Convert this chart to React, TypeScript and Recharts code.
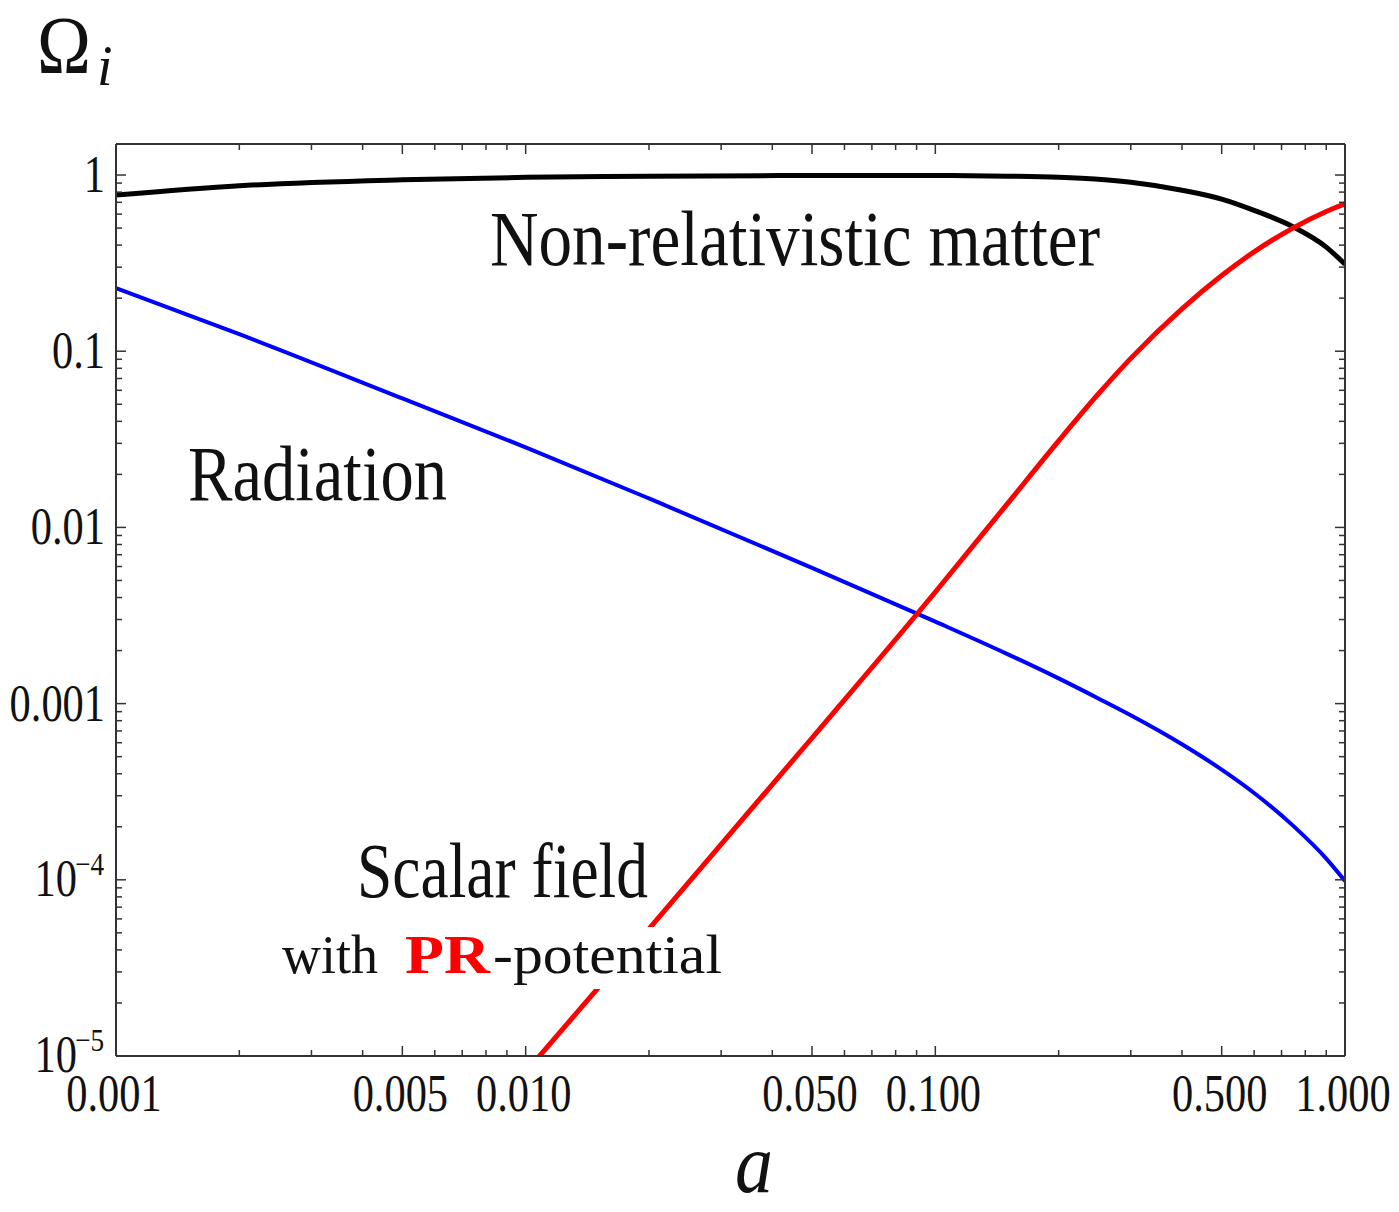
import React from 'react'
import { LineChart, Line, XAxis, YAxis } from 'recharts'

// scale factor a for matter and radiation curves
const aGrid = [0.001, 0.002, 0.005, 0.01, 0.02, 0.05, 0.1, 0.15, 0.2, 0.25, 0.3, 0.4, 0.5, 0.6, 0.75, 0.9, 1]
const matter = [0.77, 0.87, 0.94, 0.97, 0.984, 0.993, 0.993, 0.985, 0.97, 0.945, 0.91, 0.82, 0.73, 0.63, 0.506, 0.39, 0.312]
const radiation = [0.228, 0.125, 0.054, 0.0285, 0.0146, 0.0059, 0.00292, 0.00191, 0.00139, 0.00107, 0.000859, 0.000588, 0.000422, 0.000311, 0.000201, 0.000132, 0.0000985]

// scalar field only enters the frame around a = 0.011
const aField = [0.01, 0.02, 0.05, 0.1, 0.15, 0.2, 0.25, 0.3, 0.4, 0.5, 0.6, 0.75, 0.9, 1]
const scalarField = [8.1e-6, 5.27e-5, 6.38e-4, 0.0043, 0.01364, 0.031, 0.0572, 0.0911, 0.174, 0.2688, 0.3665, 0.503, 0.621, 0.686]

const xMajor = [0.001, 0.005, 0.01, 0.05, 0.1, 0.5, 1]
const xMinor = [0.002, 0.003, 0.004, 0.006, 0.007, 0.008, 0.009, 0.02, 0.03, 0.04, 0.06, 0.07, 0.08, 0.09, 0.2, 0.3, 0.4, 0.6, 0.7, 0.8, 0.9]
const yMajor = [1e-5, 1e-4, 0.001, 0.01, 0.1, 1]
const yMinor = [
  2e-5, 3e-5, 4e-5, 5e-5, 6e-5, 7e-5, 8e-5, 9e-5,
  2e-4, 3e-4, 4e-4, 5e-4, 6e-4, 7e-4, 8e-4, 9e-4,
  0.002, 0.003, 0.004, 0.005, 0.006, 0.007, 0.008, 0.009,
  0.02, 0.03, 0.04, 0.05, 0.06, 0.07, 0.08, 0.09,
  0.2, 0.3, 0.4, 0.5, 0.6, 0.7, 0.8, 0.9,
]
const yLabels: Record<string, [string, string]> = {
  '1': ['1', ''],
  '0.1': ['0.1', ''],
  '0.01': ['0.01', ''],
  '0.001': ['0.001', ''],
  '0.0001': ['10', '\u22124'],
  '0.00001': ['10', '\u22125'],
}

const FONT = '"Liberation Serif", "Times New Roman", serif'
const INK = '#333'

const matterData = aGrid.map((a, i) => ({ a, v: matter[i] }))
const radiationData = aGrid.map((a, i) => ({ a, v: radiation[i] }))
const fieldData = aField.map((a, i) => ({ a, v: scalarField[i] }))

function BottomTick({ x, y, payload }: any) {
  const v = payload.value
  const major = xMajor.includes(v)
  return (
    <g>
      <line x1={x} y1={y} x2={x} y2={y - (major ? 10 : 6)} stroke={INK} strokeWidth={1.5} />
      {major && (
        <text transform={`translate(${x - 2},${y + 55}) scale(0.8,1)`} textAnchor="middle"
          fontFamily={FONT} fontSize={53} fill="#111">{v.toFixed(3)}</text>
      )}
    </g>
  )
}

function TopTick({ x, y, payload }: any) {
  const major = xMajor.includes(payload.value)
  return <line x1={x} y1={y} x2={x} y2={y + (major ? 10 : 6)} stroke={INK} strokeWidth={1.5} />
}

function LeftTick({ x, y, payload }: any) {
  const v = payload.value
  const major = yMajor.includes(v)
  const lab = major ? yLabels[String(v)] : null
  return (
    <g>
      <line x1={x} y1={y} x2={x + (major ? 10 : 6)} y2={y} stroke={INK} strokeWidth={1.5} />
      {lab && lab[1] === '' && (
        <text transform={`translate(${x - 11},${y + 17}) scale(0.8,1)`} textAnchor="end"
          fontFamily={FONT} fontSize={53} fill="#111">{lab[0]}</text>
      )}
      {lab && lab[1] !== '' && (
        <g>
          <text transform={`translate(${x - 39},${y + 16}) scale(0.8,1)`} textAnchor="end"
            fontFamily={FONT} fontSize={53} fill="#111">{lab[0]}</text>
          <text transform={`translate(${x - 12},${y - 5}) scale(0.85,1)`} textAnchor="end"
            fontFamily={FONT} fontSize={32} fill="#111">{lab[1]}</text>
        </g>
      )}
    </g>
  )
}

function RightTick({ x, y, payload }: any) {
  const major = yMajor.includes(payload.value)
  return <line x1={x} y1={y} x2={x - (major ? 10 : 6)} y2={y} stroke={INK} strokeWidth={1.5} />
}

const axisLine = { stroke: INK, strokeWidth: 2 }

export default function App() {
  return (
    <div style={{ position: 'absolute', left: 0, top: 0, width: 1399, height: 1212, background: '#fff' }}>
      <LineChart width={1399} height={1212} margin={{ top: 0, right: 0, bottom: 0, left: 0 }}>
        <XAxis xAxisId="b" dataKey="a" type="number" scale="log" domain={[0.001, 1]} allowDataOverflow
          ticks={[...xMajor, ...xMinor]} interval={0} tickSize={0} tickMargin={0} height={156}
          axisLine={axisLine} tickLine={false} tick={<BottomTick />} />
        <XAxis xAxisId="t" orientation="top" dataKey="a" type="number" scale="log" domain={[0.001, 1]} allowDataOverflow
          ticks={[...xMajor, ...xMinor]} interval={0} tickSize={0} tickMargin={0} height={144}
          axisLine={axisLine} tickLine={false} tick={<TopTick />} />
        <YAxis yAxisId="l" type="number" scale="log" domain={[1e-5, 1.5]} allowDataOverflow
          ticks={[...yMajor, ...yMinor]} interval={0} tickSize={0} tickMargin={0} width={116}
          axisLine={axisLine} tickLine={false} tick={<LeftTick />} />
        <YAxis yAxisId="r" orientation="right" type="number" scale="log" domain={[1e-5, 1.5]} allowDataOverflow
          ticks={[...yMajor, ...yMinor]} interval={0} tickSize={0} tickMargin={0} width={54}
          axisLine={axisLine} tickLine={false} tick={<RightTick />} />
        <Line xAxisId="b" yAxisId="l" data={radiationData} dataKey="v" type="monotone" stroke="#0000ff"
          strokeWidth={4} dot={false} isAnimationActive={false} />
        <Line xAxisId="b" yAxisId="l" data={matterData} dataKey="v" type="monotone" stroke="#000000"
          strokeWidth={5} dot={false} isAnimationActive={false} />
        <Line xAxisId="b" yAxisId="l" data={fieldData} dataKey="v" type="monotone" stroke="#ff0000"
          strokeWidth={5} dot={false} isAnimationActive={false} />
      </LineChart>
      <svg width={1399} height={1212} style={{ position: 'absolute', left: 0, top: 0, pointerEvents: 'none' }}>
        <g fontFamily={FONT} fill="#111">
          <text x={37} y={73} fontSize={82} textLength={54} lengthAdjust="spacingAndGlyphs">Ω</text>
          <text x={97} y={85} fontSize={56} fontStyle="italic">i</text>
          <text x={490} y={265} fontSize={79} textLength={610} lengthAdjust="spacingAndGlyphs">Non-relativistic matter</text>
          <text x={188} y={500} fontSize={79} textLength={259} lengthAdjust="spacingAndGlyphs">Radiation</text>
          <text x={357} y={897} fontSize={79} textLength={291} lengthAdjust="spacingAndGlyphs">Scalar field</text>
          <rect x={276} y={927} width={452} height={62} fill="#fff" />
          <text x={282} y={973} fontSize={54} textLength={96} lengthAdjust="spacingAndGlyphs">with</text>
          <text x={405} y={973} fontSize={54} fontWeight="bold" fill="#ff0000" textLength={85} lengthAdjust="spacingAndGlyphs">PR</text>
          <text x={493} y={973} fontSize={54} textLength={229} lengthAdjust="spacingAndGlyphs">-potential</text>
          <text x={735} y={1192} fontSize={84} fontStyle="italic" textLength={38} lengthAdjust="spacingAndGlyphs">a</text>
        </g>
      </svg>
    </div>
  )
}
